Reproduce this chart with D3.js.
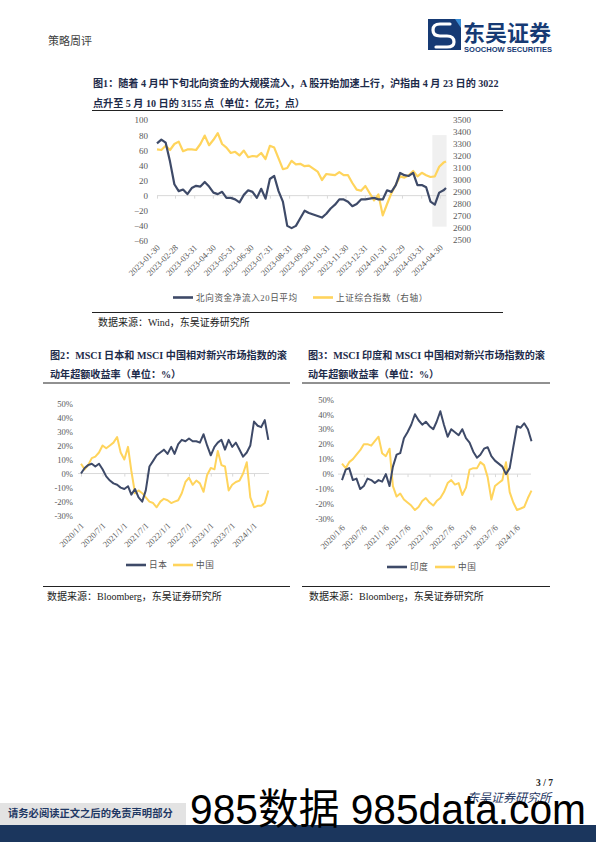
<!DOCTYPE html>
<html><head><meta charset="utf-8">
<script src="https://cdn.jsdelivr.net/npm/d3@7"></script>
<style>body{margin:0;background:#fff}svg{display:block}</style>
</head><body>
<svg id="page" width="596" height="842"></svg>
<script>
// ---------------- DATA ----------------
// Chart 1: weekly samples from 2023-01-30, last point 2024-05-10
const c1Start = "2023-01-30";
const c1End = "2024-05-10";
const c1TickLabels = ["2023-01-30","2023-02-28","2023-03-31","2023-04-30","2023-05-31","2023-06-30","2023-07-31","2023-08-31","2023-09-30","2023-10-31","2023-11-30","2023-12-31","2024-01-31","2024-02-29","2024-03-31","2024-04-30"];
const northbound20d = [69,74,70,45,15,6,8,2,10,13, 12,18,12,4,2,5,-3,-3,-5,-9, 1,7,5,-3,9,-4,22,26,6,-8, -40,-43,-40,-30,-20,-23,-25,-27,-29,-24, -17,-12,-5,-5,-8,-14,-11,-5,-5,-4, -3,-5,-5,7,5,14,30,27,26,30, 14,14,11,-8,-12,4,7, 10];
const sseComposite = [3255,3250,3285,3250,3300,3320,3240,3255,3255,3250, 3300,3370,3290,3335,3390,3300,3270,3225,3235,3205, 3245,3190,3200,3195,3225,3175,3285,3270,3180,3090, 3100,3160,3130,3135,3115,3120,3095,3070,3000,3050, 3045,3040,3065,3040,3040,2975,2920,2910,2950,2890, 2830,2880,2705,2800,2890,2960,3030,3020,3040,3075, 3030,3060,3040,3025,3030,3110,3145, 3155];
const c1LeftTicks = [100,80,60,40,20,0,-20,-40,-60];
const c1RightTicks = [3500,3400,3300,3200,3100,3000,2900,2800,2700,2600,2500];
const c1HighlightDates = ["2024-04-18","2024-05-11"];
const c1HighlightRange = [-41, 80];
const c1Legend = ["北向资金净流入20日平均","上证综合指数（右轴）"];

// Chart 2: monthly samples from 2020-01-01
const c2Start = "2020-01-01";
const c2TickLabels = ["2020/1/1","2020/7/1","2021/1/1","2021/7/1","2022/1/1","2022/7/1","2023/1/1","2023/7/1","2024/1/1"];
const japanExcess = [0,4,6,7,5,7,3,-2,-5,-7, -8,-10,-11,-9,-15,-11,-17,-20,-12,5, 9,13,15,17,14,19,14,21,24,23, 25,23,23,22,28,20,13,19,22,24, 17,24,19,22,17,12,15,20,37,34, 33,38,24];
const chinaExcess2 = [7,3,6,11,12,15,20,18,20,22, 26,15,10,19,2,-14,-12,-14,-17,-20, -21,-24,-20,-18,-19,-21,-20,-19,-14,-6, -3,-8,-5,-7,-13,-1,4,3,16,6, 5,-12,-8,-6,-5,0,8,-17,-24,-23, -23,-21,-12];
const c2Legend = ["日本","中国"];

// Chart 3: monthly samples from 2020-01-06
const c3Start = "2020-01-06";
const c3TickLabels = ["2020/1/6","2020/7/6","2021/1/6","2021/7/6","2022/1/6","2022/7/6","2023/1/6","2023/7/6","2024/1/6"];
const indiaExcess = [-4,3,4,-4,-3,-10,-8,-3,-4,-6, -4,-5,0,-8,5,13,14,24,28,33, 40,36,33,35,32,30,35,42,33,25, 30,28,26,30,24,21,15,11,13,17, 18,12,9,7,5,0,4,18,32,31, 34,30,22];
const chinaExcess3 = [7,4,8,10,13,16,20,20,19,22, 25,14,12,17,-8,-15,-13,-17,-19,-21, -24,-22,-18,-16,-19,-21,-18,-16,-12,-6, -4,-7,-6,-14,-9,3,4,4,8,6, -2,-17,-8,-6,-4,8,-12,-19,-24,-23, -22,-16,-11];
const c3Legend = ["印度","中国"];
const pctTicks = [50,40,30,20,10,0,-10,-20,-30];

// ---------------- STYLE ----------------
const NAVY = "#3e4a68", GOLD = "#ffd45c", AXIS = "#595959", ZERO = "#d9d9d9";
const TITLE = "#1d2b4a";
const SERIF = "'Liberation Serif','Noto Sans CJK SC',serif";
const parse = d3.timeParse("%Y-%m-%d");
const parseSlash = d3.timeParse("%Y/%m/%d");
const svg = d3.select("#page");

function text(x, y, str, opts = {}) {
  const t = svg.append("text").attr("x", x).attr("y", y).text(str)
    .attr("font-family", opts.family || SERIF)
    .attr("font-size", opts.size || 10)
    .attr("fill", opts.fill || "#222");
  if (opts.weight) t.attr("font-weight", opts.weight);
  if (opts.anchor) t.attr("text-anchor", opts.anchor);
  if (opts.style) t.attr("font-style", opts.style);
  if (opts.ls) t.attr("letter-spacing", opts.ls);
  return t;
}
function rule(x1, x2, y, w = 1, c = "#222") {
  svg.append("line").attr("x1", x1).attr("x2", x2).attr("y1", y).attr("y2", y)
    .attr("stroke", c).attr("stroke-width", w);
}
function drawSeries(g, pts, x, y, color, w) {
  g.append("path").datum(pts)
    .attr("fill", "none").attr("stroke", color).attr("stroke-width", w)
    .attr("stroke-linejoin", "round")
    .attr("d", d3.line().x(d => x(d[0])).y(d => y(d[1])));
}
function styleAxis(g, size) {
  g.select(".domain").remove();
  g.selectAll("text").attr("font-family", SERIF).attr("font-size", size).attr("fill", AXIS);
}
function legendItem(x, y, color, label) {
  rule(x, x + 20, y, 2.6, color);
  text(x + 23, y + 3.2, label, {size: 8.6, fill: "#555", ls: 0.6});
}
function rotLabels(g) {
  g.selectAll(".tick text").attr("transform", "rotate(-45)")
    .attr("text-anchor", "end").attr("x", 0).attr("y", 0).attr("dx", "0").attr("dy", "0.35em");
}

// ---------------- HEADER ----------------
text(48, 45, "策略周评", {size: 11, fill: "#404040", family: "'Noto Sans CJK SC'"});
svg.append("rect").attr("x", 428).attr("y", 19).attr("width", 33).attr("height", 31).attr("fill", "#163a74");
svg.append("path").attr("d", "M 450 24 L 440 24 Q 433 24 433 30 Q 433 36 440 36 L 447 36 Q 454 36 454 42 Q 454 47 447 47 L 436 47")
  .attr("fill", "none").attr("stroke", "#fff").attr("stroke-width", 3.2).attr("stroke-linecap", "round");
svg.append("path").attr("d", "M 455 19 L 461 19 L 461 28 Z").attr("fill", "#3a8fd8");
text(463, 41, "东吴证券", {size: 22, weight: 700, fill: "#163a74", family: "'Noto Sans CJK SC'"});
text(464, 52, "SOOCHOW SECURITIES", {size: 7.2, weight: 700, fill: "#163a74", family: "'Liberation Sans',sans-serif"})
  .attr("textLength", 88).attr("lengthAdjust", "spacingAndGlyphs");

// ---------------- CHART 1 ----------------
text(93, 87, "图1：随着 4 月中下旬北向资金的大规模流入，A 股开始加速上行，沪指由 4 月 23 日的 3022", {size: 10.1, weight: 700, fill: TITLE});
text(93, 107, "点升至 5 月 10 日的 3155 点（单位：亿元；点）", {size: 10.1, weight: 700, fill: TITLE});
rule(92, 503, 110.5);

const x1 = d3.scaleTime().domain([parse(c1Start), parse(c1End)]).range([157, 446]);
const yL = d3.scaleLinear().domain([-60, 100]).range([241, 120]);
const yR = d3.scaleLinear().domain([2500, 3500]).range([240, 120]);
const c1Dates = northbound20d.map((v, i) => i < northbound20d.length - 1 ? d3.timeDay.offset(parse(c1Start), 7 * i) : parse(c1End));
const g1 = svg.append("g");
g1.append("rect")
  .attr("x", x1(parse(c1HighlightDates[0]))).attr("width", x1(parse(c1HighlightDates[1])) - x1(parse(c1HighlightDates[0])))
  .attr("y", yL(c1HighlightRange[1])).attr("height", yL(c1HighlightRange[0]) - yL(c1HighlightRange[1]))
  .attr("fill", "#f0f0f0");
g1.append("line").attr("x1", 157).attr("x2", 446).attr("y1", yL(0)).attr("y2", yL(0)).attr("stroke", ZERO).attr("stroke-width", 1);
const tickDates1 = c1TickLabels.map(parse);
const ax1t = g1.append("g").attr("transform", `translate(0,${yL(0)})`)
  .call(d3.axisBottom(x1).tickValues(tickDates1).tickSize(3).tickFormat(""));
ax1t.select(".domain").remove(); ax1t.selectAll("line").attr("stroke", ZERO);
const ax1l = g1.append("g").attr("transform", "translate(1,246)")
  .call(d3.axisBottom(x1).tickValues(tickDates1).tickSize(0).tickFormat(d3.timeFormat("%Y-%m-%d")));
styleAxis(ax1l, 8.6); rotLabels(ax1l);
const ay1 = g1.append("g").attr("transform", "translate(157,0)")
  .call(d3.axisLeft(yL).tickValues(c1LeftTicks).tickSize(0).tickPadding(9).tickFormat(d3.format("d")));
styleAxis(ay1, 9);
const ay1r = g1.append("g").attr("transform", "translate(446,0)")
  .call(d3.axisRight(yR).tickValues(c1RightTicks).tickSize(0).tickPadding(7).tickFormat(d3.format("d")));
styleAxis(ay1r, 9);
drawSeries(g1, sseComposite.map((v, i) => [c1Dates[i], v]), x1, yR, GOLD, 2.2);
drawSeries(g1, northbound20d.map((v, i) => [c1Dates[i], v]), x1, yL, NAVY, 2.2);
legendItem(173, 297.5, NAVY, c1Legend[0]);
legendItem(313, 297.5, GOLD, c1Legend[1]);
rule(92, 503, 312.5);
text(98, 326, "数据来源：Wind，东吴证券研究所", {size: 10, fill: "#222"});

// ---------------- CHART 2 & 3 ----------------
function pctChart(cfg) {
  const x = d3.scaleTime().domain([parseSlash(cfg.ticks[0]), parseSlash(cfg.ticks[cfg.ticks.length - 1])]).range(cfg.xr);
  const y = d3.scaleLinear().domain([-30, 50]).range(cfg.yr);
  const g = svg.append("g");
  const dates = cfg.a.map((v, i) => d3.timeMonth.offset(parse(cfg.start), i));
  g.append("line").attr("x1", cfg.zx[0]).attr("x2", cfg.zx[1]).attr("y1", y(0)).attr("y2", y(0)).attr("stroke", ZERO);
  const tdates = cfg.ticks.map(parseSlash);
  const at = g.append("g").attr("transform", `translate(0,${y(0)})`)
    .call(d3.axisBottom(x).tickValues(tdates).tickSize(3).tickFormat(""));
  at.select(".domain").remove(); at.selectAll("line").attr("stroke", ZERO);
  const al = g.append("g").attr("transform", `translate(1,${cfg.labelY})`)
    .call(d3.axisBottom(x).tickValues(tdates).tickSize(0).tickFormat((d, i) => cfg.ticks[i]));
  styleAxis(al, 8.6); rotLabels(al);
  const ay = g.append("g").attr("transform", `translate(${cfg.yAxisX},0)`)
    .call(d3.axisLeft(y).tickValues(pctTicks).tickSize(0).tickPadding(5).tickFormat(d => d + "%"));
  styleAxis(ay, 8.6);
  drawSeries(g, cfg.b.map((v, i) => [dates[i], v]), x, y, GOLD, 2);
  drawSeries(g, cfg.a.map((v, i) => [dates[i], v]), x, y, NAVY, 2);
}

// Chart 2
text(50, 359, "图2：MSCI 日本和 MSCI 中国相对新兴市场指数的滚", {size: 10.1, weight: 700, fill: TITLE});
text(50, 378, "动年超额收益率（单位：%）", {size: 10.1, weight: 700, fill: TITLE});
rule(43, 290, 383);
pctChart({start: c2Start, ticks: c2TickLabels, a: japanExcess, b: chinaExcess2,
  xr: [81, 254], yr: [515.7, 403.3], zx: [78, 269], labelY: 524, yAxisX: 78});
legendItem(126, 565, NAVY, c2Legend[0]);
legendItem(173, 565, GOLD, c2Legend[1]);
rule(43, 290, 586.5);
text(47, 600, "数据来源：Bloomberg，东吴证券研究所", {size: 10, fill: "#222"});

// Chart 3
text(308, 359, "图3：MSCI 印度和 MSCI 中国相对新兴市场指数的滚", {size: 10.1, weight: 700, fill: TITLE});
text(308, 378, "动年超额收益率（单位：%）", {size: 10.1, weight: 700, fill: TITLE});
rule(302, 550, 383);
pctChart({start: c3Start, ticks: c3TickLabels, a: indiaExcess, b: chinaExcess3,
  xr: [342, 517], yr: [519, 399.3], zx: [338, 531], labelY: 526, yAxisX: 339});
legendItem(387, 567, NAVY, c3Legend[0]);
legendItem(435, 567, GOLD, c3Legend[1]);
rule(302, 550, 586.5);
text(309, 600, "数据来源：Bloomberg，东吴证券研究所", {size: 10, fill: "#222"});

// ---------------- FOOTER ----------------
text(553, 786, "3 / 7", {size: 9.5, weight: 700, fill: "#222", anchor: "end"});
text(467, 802, "东吴证券研究所", {size: 12, fill: "#1f3864", style: "italic", family: "'Noto Sans CJK SC'"});
svg.append("rect").attr("x", 0).attr("y", 803).attr("width", 186).attr("height", 22).attr("fill", "#e3e3e3");
svg.append("rect").attr("x", 0).attr("y", 825).attr("width", 596).attr("height", 17).attr("fill", "#1b365d");
text(8, 817, "请务必阅读正文之后的免责声明部分", {size: 10.3, weight: 700, fill: "#1f3864"});
// watermark overlay
text(190, 824, "985数据 985data.com", {size: 42, fill: "#000", family: "'Liberation Sans','Noto Sans CJK SC',sans-serif"})
  .attr("textLength", 396).attr("lengthAdjust", "spacingAndGlyphs");
</script>
</body></html>
